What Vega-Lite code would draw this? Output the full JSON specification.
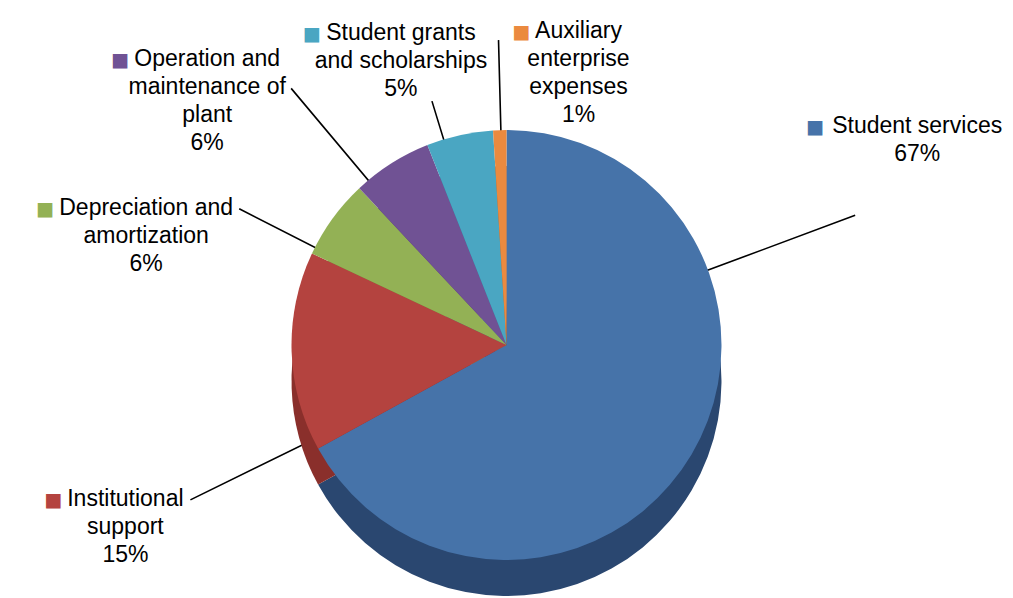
{
  "$schema": "https://vega.github.io/schema/vega-lite/v6.json",
  "width": 1013,
  "height": 506,
  "autosize": {"type": "none"},
  "padding": {"left": 0, "right": 0, "top": 92, "bottom": 0},
  "background": "white",
  "config": {
    "view": {"stroke": null},
    "text": {"font": "Liberation Sans", "fontSize": 23, "lineHeight": 28}
  },
  "data": {
    "values": [
      {"rank": 1, "category": "Student services", "value": 67, "label": "Student services\n67%"},
      {"rank": 2, "category": "Institutional support", "value": 15, "label": "Institutional\nsupport\n15%"},
      {"rank": 3, "category": "Depreciation and amortization", "value": 6, "label": "Depreciation and\namortization\n6%"},
      {"rank": 4, "category": "Operation and maintenance of plant", "value": 6, "label": "Operation and\nmaintenance of\nplant\n6%"},
      {"rank": 5, "category": "Student grants and scholarships", "value": 5, "label": "Student grants\nand scholarships\n5%"},
      {"rank": 6, "category": "Auxiliary enterprise expenses", "value": 1, "label": "Auxiliary\nenterprise\nexpenses\n1%"}
    ]
  },
  "encoding": {
    "theta": {"field": "value", "type": "quantitative", "stack": true, "scale": {"domain": [0, 100]}},
    "order": {"field": "rank", "type": "quantitative", "sort": "ascending"},
    "detail": {"field": "category", "type": "nominal"}
  },
  "resolve": {"scale": {"color": "independent"}},
  "layer": [
    {"transform": [{"stack": "value", "groupby": [], "sort": [{"field": "rank", "order": "ascending"}], "as": ["v0", "v1"]}],
     "mark": {"type": "arc", "radius": 372, "thetaOffset": 2.4295, "padAngle": 2.6, "stroke": "black", "strokeWidth": 1.6, "fillOpacity": 0},
     "encoding": {"theta": {"field": "v0", "type": "quantitative", "stack": null}, "theta2": {"field": "v0"},
       "strokeOpacity": {"condition": {"test": "datum.category === 'Student services'", "value": 1}, "value": 0}}},
    {"transform": [{"stack": "value", "groupby": [], "sort": [{"field": "rank", "order": "ascending"}], "as": ["v0", "v1"]}],
     "mark": {"type": "arc", "radius": 352, "thetaOffset": 0.0942, "padAngle": 0.4, "stroke": "black", "strokeWidth": 1.6, "fillOpacity": 0},
     "encoding": {"theta": {"field": "v0", "type": "quantitative", "stack": null}, "theta2": {"field": "v0"},
       "strokeOpacity": {"condition": {"test": "datum.category === 'Institutional support'", "value": 1}, "value": 0}}},
    {"transform": [{"stack": "value", "groupby": [], "sort": [{"field": "rank", "order": "ascending"}], "as": ["v0", "v1"]}],
     "mark": {"type": "arc", "radius": 300, "thetaOffset": 0.0628, "padAngle": 0.4, "stroke": "black", "strokeWidth": 1.6, "fillOpacity": 0},
     "encoding": {"theta": {"field": "v0", "type": "quantitative", "stack": null}, "theta2": {"field": "v0"},
       "strokeOpacity": {"condition": {"test": "datum.category === 'Depreciation and amortization'", "value": 1}, "value": 0}}},
    {"transform": [{"stack": "value", "groupby": [], "sort": [{"field": "rank", "order": "ascending"}], "as": ["v0", "v1"]}],
     "mark": {"type": "arc", "radius": 335, "thetaOffset": 0.1117, "padAngle": 0.4, "stroke": "black", "strokeWidth": 1.6, "fillOpacity": 0},
     "encoding": {"theta": {"field": "v0", "type": "quantitative", "stack": null}, "theta2": {"field": "v0"},
       "strokeOpacity": {"condition": {"test": "datum.category === 'Operation and maintenance of plant'", "value": 1}, "value": 0}}},
    {"transform": [{"stack": "value", "groupby": [], "sort": [{"field": "rank", "order": "ascending"}], "as": ["v0", "v1"]}],
     "mark": {"type": "arc", "radius": 255, "thetaOffset": 0.1606, "padAngle": 0.4, "stroke": "black", "strokeWidth": 1.6, "fillOpacity": 0},
     "encoding": {"theta": {"field": "v0", "type": "quantitative", "stack": null}, "theta2": {"field": "v0"},
       "strokeOpacity": {"condition": {"test": "datum.category === 'Student grants and scholarships'", "value": 1}, "value": 0}}},
    {"transform": [{"stack": "value", "groupby": [], "sort": [{"field": "rank", "order": "ascending"}], "as": ["v0", "v1"]}],
     "mark": {"type": "arc", "radius": 305, "thetaOffset": 0.0733, "padAngle": 0.4, "stroke": "black", "strokeWidth": 1.6, "fillOpacity": 0},
     "encoding": {"theta": {"field": "v0", "type": "quantitative", "stack": null}, "theta2": {"field": "v0"},
       "strokeOpacity": {"condition": {"test": "datum.category === 'Auxiliary enterprise expenses'", "value": 1}, "value": 0}}},

    {
      "mark": {"type": "arc", "radius": 215, "yOffset": 36},
      "encoding": {
        "color": {"field": "category", "type": "nominal", "legend": null,
          "scale": {"domain": ["Student services", "Institutional support", "Depreciation and amortization", "Operation and maintenance of plant", "Student grants and scholarships", "Auxiliary enterprise expenses"],
                    "range": ["#2A4770", "#8A2F2B", "#6C883A", "#51396E", "#2E7D94", "#B5632A"]}}
      }
    },
    {
      "mark": {"type": "arc", "radius": 215},
      "encoding": {
        "color": {"field": "category", "type": "nominal", "legend": null,
          "scale": {"domain": ["Student services", "Institutional support", "Depreciation and amortization", "Operation and maintenance of plant", "Student grants and scholarships", "Auxiliary enterprise expenses"],
                    "range": ["#4673A9", "#B4433F", "#93B155", "#705294", "#4AA6C2", "#EB8A3F"]}}
      }
    },

    {"mark": {"type": "text", "text": "■", "font": "DejaVu Sans", "fontSize": 19, "align": "center", "baseline": "middle", "radius": 372, "thetaOffset": -0.8901, "dx": -40, "dy": -88},
     "encoding": {"color": {"field": "category", "type": "nominal", "legend": null, "scale": {"domain": ["Student services", "Institutional support", "Depreciation and amortization", "Operation and maintenance of plant", "Student grants and scholarships", "Auxiliary enterprise expenses"], "range": ["#4673A9", "#B4433F", "#93B155", "#705294", "#4AA6C2", "#EB8A3F"]}},
       "opacity": {"condition": {"test": "datum.category === 'Student services'", "value": 1}, "value": 0}}},
    {"mark": {"type": "text", "text": "■", "font": "DejaVu Sans", "fontSize": 19, "align": "center", "baseline": "middle", "radius": 352, "thetaOffset": -0.4241, "dx": -137, "dy": 0},
     "encoding": {"color": {"field": "category", "type": "nominal", "legend": null, "scale": {"domain": ["Student services", "Institutional support", "Depreciation and amortization", "Operation and maintenance of plant", "Student grants and scholarships", "Auxiliary enterprise expenses"], "range": ["#4673A9", "#B4433F", "#93B155", "#705294", "#4AA6C2", "#EB8A3F"]}},
       "opacity": {"condition": {"test": "datum.category === 'Institutional support'", "value": 1}, "value": 0}}},
    {"mark": {"type": "text", "text": "■", "font": "DejaVu Sans", "fontSize": 19, "align": "center", "baseline": "middle", "radius": 300, "thetaOffset": -0.1571, "dx": -194, "dy": 0},
     "encoding": {"color": {"field": "category", "type": "nominal", "legend": null, "scale": {"domain": ["Student services", "Institutional support", "Depreciation and amortization", "Operation and maintenance of plant", "Student grants and scholarships", "Auxiliary enterprise expenses"], "range": ["#4673A9", "#B4433F", "#93B155", "#705294", "#4AA6C2", "#EB8A3F"]}},
       "opacity": {"condition": {"test": "datum.category === 'Depreciation and amortization'", "value": 1}, "value": 0}}},
    {"mark": {"type": "text", "text": "■", "font": "DejaVu Sans", "fontSize": 19, "align": "center", "baseline": "middle", "radius": 335, "thetaOffset": -0.1326, "dx": -171, "dy": -28},
     "encoding": {"color": {"field": "category", "type": "nominal", "legend": null, "scale": {"domain": ["Student services", "Institutional support", "Depreciation and amortization", "Operation and maintenance of plant", "Student grants and scholarships", "Auxiliary enterprise expenses"], "range": ["#4673A9", "#B4433F", "#93B155", "#705294", "#4AA6C2", "#EB8A3F"]}},
       "opacity": {"condition": {"test": "datum.category === 'Operation and maintenance of plant'", "value": 1}, "value": 0}}},
    {"mark": {"type": "text", "text": "■", "font": "DejaVu Sans", "fontSize": 19, "align": "center", "baseline": "middle", "radius": 255, "thetaOffset": -0.0768, "dx": -120, "dy": -67},
     "encoding": {"color": {"field": "category", "type": "nominal", "legend": null, "scale": {"domain": ["Student services", "Institutional support", "Depreciation and amortization", "Operation and maintenance of plant", "Student grants and scholarships", "Auxiliary enterprise expenses"], "range": ["#4673A9", "#B4433F", "#93B155", "#705294", "#4AA6C2", "#EB8A3F"]}},
       "opacity": {"condition": {"test": "datum.category === 'Student grants and scholarships'", "value": 1}, "value": 0}}},
    {"mark": {"type": "text", "text": "■", "font": "DejaVu Sans", "fontSize": 19, "align": "center", "baseline": "middle", "radius": 305, "thetaOffset": 0.0052, "dx": 23, "dy": -8},
     "encoding": {"color": {"field": "category", "type": "nominal", "legend": null, "scale": {"domain": ["Student services", "Institutional support", "Depreciation and amortization", "Operation and maintenance of plant", "Student grants and scholarships", "Auxiliary enterprise expenses"], "range": ["#4673A9", "#B4433F", "#93B155", "#705294", "#4AA6C2", "#EB8A3F"]}},
       "opacity": {"condition": {"test": "datum.category === 'Auxiliary enterprise expenses'", "value": 1}, "value": 0}}},

    {"mark": {"type": "text", "lineBreak": "\n", "align": "center", "baseline": "top", "color": "black", "radius": 372, "thetaOffset": -0.8901, "dx": 62, "dy": -100},
     "encoding": {"text": {"field": "label", "type": "nominal"},
       "opacity": {"condition": {"test": "datum.category === 'Student services'", "value": 1}, "value": 0}}},
    {"mark": {"type": "text", "lineBreak": "\n", "align": "center", "baseline": "top", "color": "black", "radius": 352, "thetaOffset": -0.4241, "dx": -65, "dy": -12},
     "encoding": {"text": {"field": "label", "type": "nominal"},
       "opacity": {"condition": {"test": "datum.category === 'Institutional support'", "value": 1}, "value": 0}}},
    {"mark": {"type": "text", "lineBreak": "\n", "align": "center", "baseline": "top", "color": "black", "radius": 300, "thetaOffset": -0.1571, "dx": -93, "dy": -12},
     "encoding": {"text": {"field": "label", "type": "nominal"},
       "opacity": {"condition": {"test": "datum.category === 'Depreciation and amortization'", "value": 1}, "value": 0}}},
    {"mark": {"type": "text", "lineBreak": "\n", "align": "center", "baseline": "top", "color": "black", "radius": 335, "thetaOffset": -0.1326, "dx": -84, "dy": -40},
     "encoding": {"text": {"field": "label", "type": "nominal"},
       "opacity": {"condition": {"test": "datum.category === 'Operation and maintenance of plant'", "value": 1}, "value": 0}}},
    {"mark": {"type": "text", "lineBreak": "\n", "align": "center", "baseline": "top", "color": "black", "radius": 255, "thetaOffset": -0.0768, "dx": -31, "dy": -79},
     "encoding": {"text": {"field": "label", "type": "nominal"},
       "opacity": {"condition": {"test": "datum.category === 'Student grants and scholarships'", "value": 1}, "value": 0}}},
    {"mark": {"type": "text", "lineBreak": "\n", "align": "center", "baseline": "top", "color": "black", "radius": 305, "thetaOffset": 0.0052, "dx": 80, "dy": -20},
     "encoding": {"text": {"field": "label", "type": "nominal"},
       "opacity": {"condition": {"test": "datum.category === 'Auxiliary enterprise expenses'", "value": 1}, "value": 0}}}
  ]
}
